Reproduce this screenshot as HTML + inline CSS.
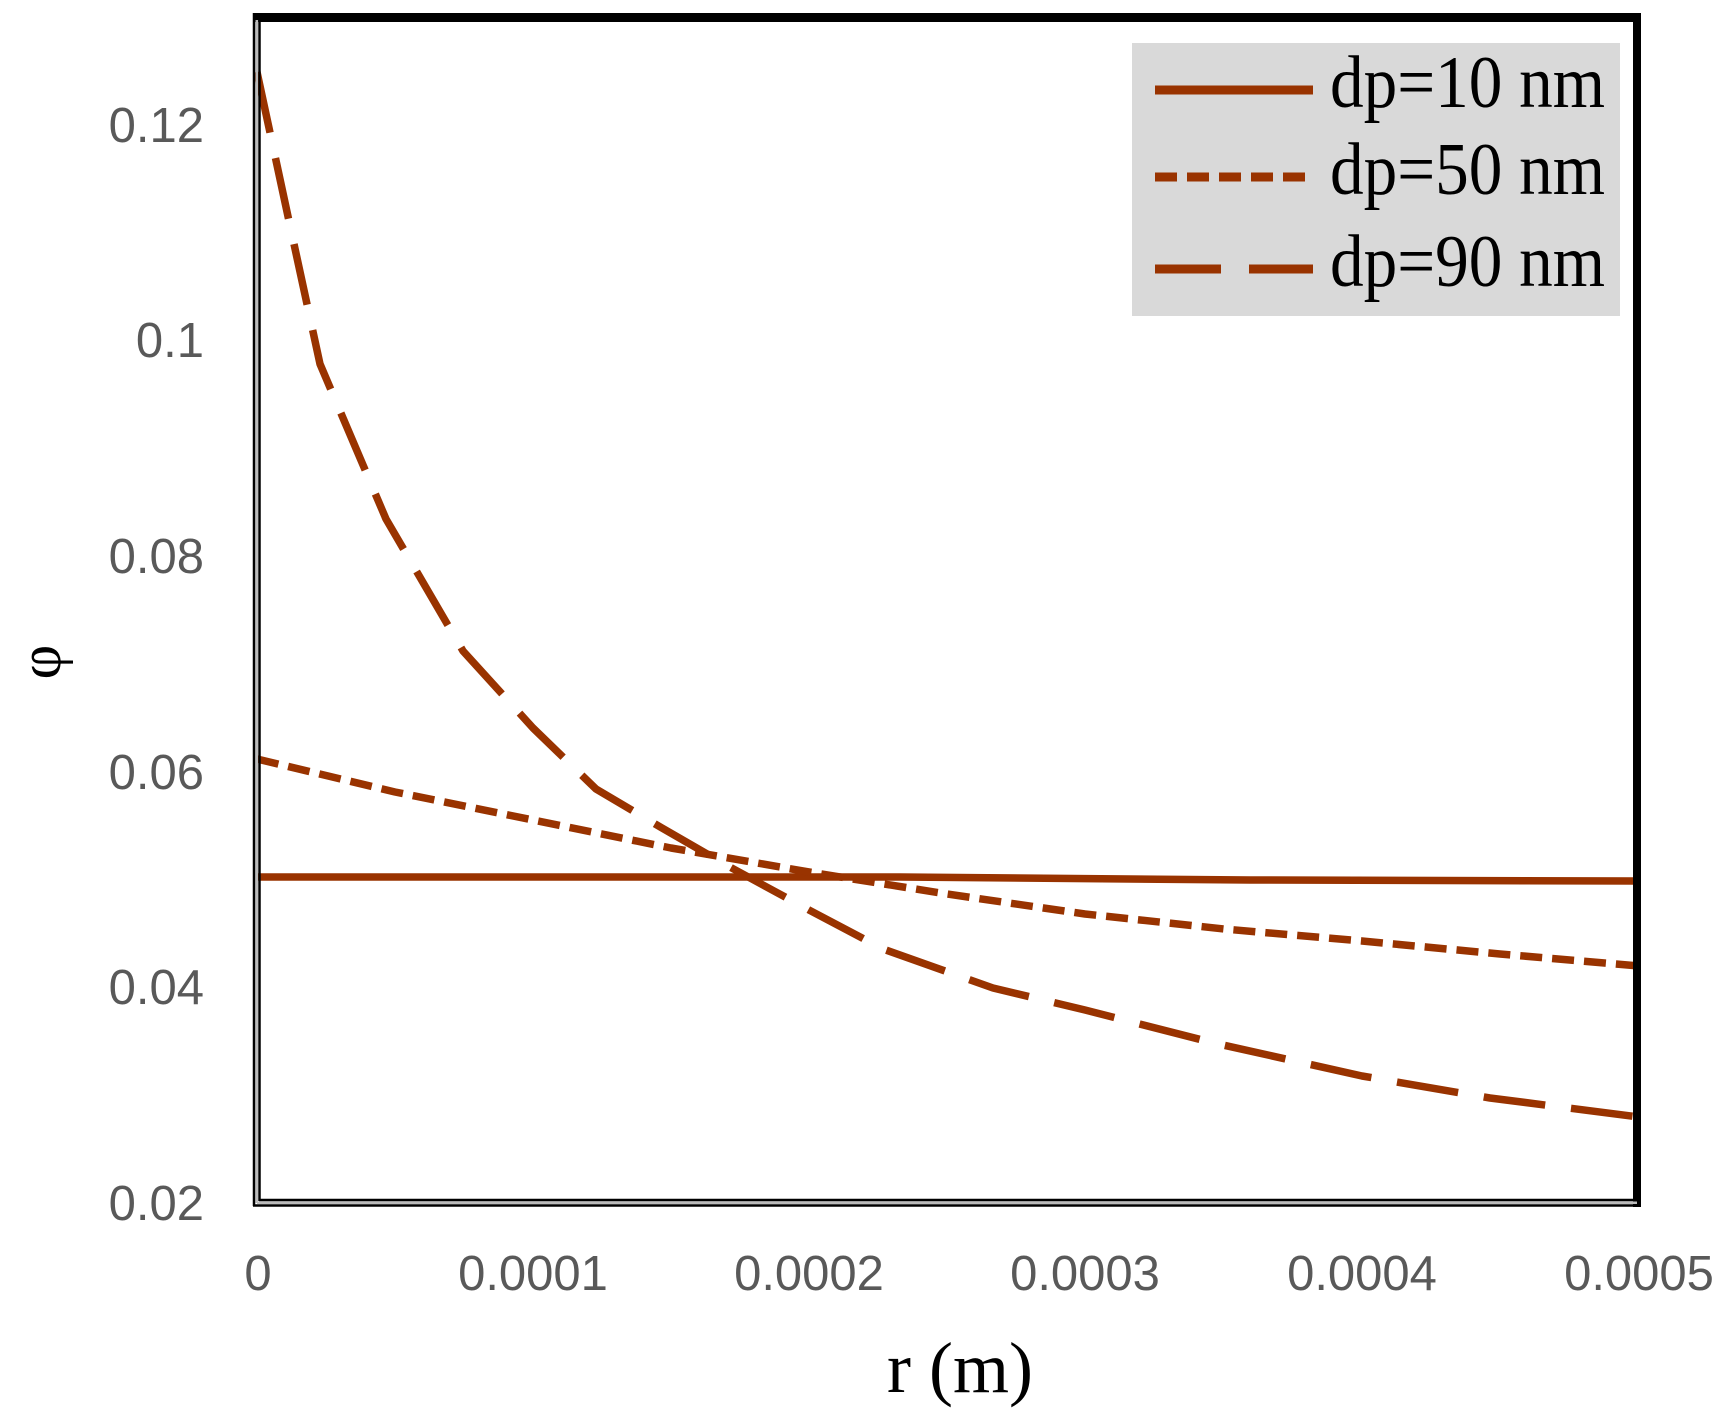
<!DOCTYPE html>
<html><head><meta charset="utf-8"><style>html,body{margin:0;padding:0;background:#fff}svg{display:block}</style></head>
<body>
<svg width="1727" height="1416" viewBox="0 0 1727 1416" xmlns="http://www.w3.org/2000/svg">
<rect width="1727" height="1416" fill="#fff"/>
<!-- legend -->
<rect x="1132" y="43" width="488" height="273" fill="#d9d9d9"/>
<g stroke="#993300" stroke-width="9" fill="none">
<line x1="1155" y1="90" x2="1313" y2="90"/>
<line x1="1155" y1="177" x2="1313" y2="177" stroke-dasharray="22,10"/>
<line x1="1155" y1="269" x2="1313" y2="269" stroke-dasharray="66,28"/>
</g>
<g font-family="'Liberation Serif',serif" font-size="74" fill="#000">
<text x="1330" y="107" textLength="275" lengthAdjust="spacingAndGlyphs">dp=10 nm</text>
<text x="1330" y="194" textLength="275" lengthAdjust="spacingAndGlyphs">dp=50 nm</text>
<text x="1330" y="286" textLength="275" lengthAdjust="spacingAndGlyphs">dp=90 nm</text>
</g>
<!-- series -->
<g stroke="#993300" stroke-width="7.5" fill="none" stroke-linejoin="round">
<polyline points="257,877 900,877 1250,880 1639,881"/>
<polyline stroke-dasharray="22,10" points="257,759 395,792 533,820 671,848 809,872 947,894 1085,914 1224,929 1362,941 1500,954 1639,966"/>
<polyline stroke-dasharray="62,26" points="257,72 289,221 320,364 386,519 463,651 533,728 596,789 662,828 728,866 809,910 883,949 993,988 1085,1010 1214,1043 1362,1076 1490,1098 1639,1117"/>
</g>
<!-- frame -->
<g fill="none" stroke="#000">
<line x1="254" y1="13" x2="254" y2="1206" stroke-width="2.5"/>
<line x1="259.5" y1="20" x2="259.5" y2="1201" stroke-width="2.5"/>
<line x1="253" y1="1205.5" x2="1641" y2="1205.5" stroke-width="2.5"/>
<line x1="259" y1="1200" x2="1637" y2="1200" stroke-width="2.5"/>
<line x1="253" y1="17.5" x2="1641" y2="17.5" stroke-width="9"/>
<line x1="1637" y1="13" x2="1637" y2="1207" stroke-width="8"/>
</g>
<g stroke="#bbb" stroke-width="2.5">
<line x1="256.8" y1="20" x2="256.8" y2="1203"/>
<line x1="257" y1="1202.8" x2="1637" y2="1202.8"/>
</g>
<!-- y ticks -->
<g font-family="'Liberation Sans',sans-serif" font-size="49" fill="#595959" text-anchor="end">
<text x="204" y="142">0.12</text>
<text x="204" y="357">0.1</text>
<text x="204" y="573">0.08</text>
<text x="204" y="789">0.06</text>
<text x="204" y="1004">0.04</text>
<text x="204" y="1220">0.02</text>
</g>
<g font-family="'Liberation Sans',sans-serif" font-size="49" fill="#595959" text-anchor="middle">
<text x="258" y="1290">0</text>
<text x="533" y="1290">0.0001</text>
<text x="809" y="1290">0.0002</text>
<text x="1085" y="1290">0.0003</text>
<text x="1362" y="1290">0.0004</text>
<text x="1639" y="1290">0.0005</text>
</g>
<text x="960" y="1392" font-family="'Liberation Serif',serif" font-size="72" text-anchor="middle" fill="#000">r (m)</text>
<text transform="translate(60,662) rotate(-90)" font-family="'Liberation Serif',serif" font-size="60" text-anchor="middle" fill="#000">φ</text>
</svg>
</body></html>
